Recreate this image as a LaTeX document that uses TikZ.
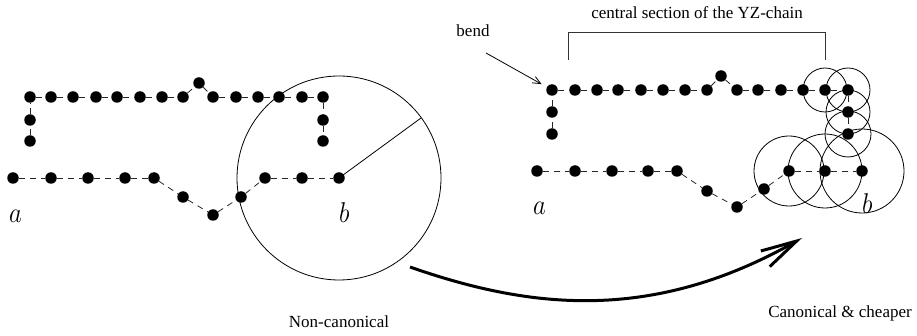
\documentclass[tikz,border=0pt]{standalone}
\usepackage{fontspec}
\setmainfont{Liberation Serif}
\usetikzlibrary{arrows.meta}
\begin{document}
\begin{tikzpicture}[x=1pt,y=-1pt,
  dot/.style={circle,fill=black,inner sep=0pt,minimum size=11.5pt},
  chainline/.style={dash pattern=on 6pt off 5pt,line width=0.8pt,black!85},
  thin line/.style={line width=0.8pt},
  lbl/.style={font=\fontsize{17}{20}\selectfont,inner sep=0pt},
  mlbl/.style={font=\fontsize{25}{28}\selectfont,inner sep=0pt,anchor=base west}]
\useasboundingbox (0,0) rectangle (917,336);
% ---------- left diagram ----------
\foreach \p [count=\i] in {(30,141),(30,120),(30,97),(51,97),(73,97),(96,97),(117,97),(140,97),(162,97),(183,97),(199,83),(213,97),(236,97),(258,97),(279,97),(302,97),(323,97),(323,120),(323,141)}
  \node[dot] (LT\i) at \p {};
\foreach \p [count=\i] in {(13,178),(51,178),(88,178),(125,178),(154,178),(183,197),(213,215),(241,197),(265,178),(302,178),(339,178)}
  \node[dot] (LB\i) at \p {};
\foreach \i [remember=\i as \j (initially 1)] in {2,...,19}
  \draw[chainline] (LT\j) -- (LT\i);
\foreach \i [remember=\i as \j (initially 1)] in {2,...,11}
  \draw[chainline] (LB\j) -- (LB\i);
\draw[thin line] (LB11.center) circle[radius=102];
\coordinate (rad) at (421,118);
\draw[thin line] (LB11.center) -- (rad);
\node[mlbl] (la) at (9,223) {\scalebox{1}[1.15]{$a$}};
\node[mlbl] (lb) at (339,223) {\scalebox{1}[1.15]{$b$}};
\node[lbl] (noncan) at (339,322) {Non-canonical};
% ---------- right diagram ----------
\foreach \p [count=\i] in {(552,134),(552,112),(552,90),(575,90),(597,90),(618,90),(641,90),(663,90),(685,90),(707,90),(721,76),(737,90),(758,90),(781,90),(803,90),(825,90),(848,90),(848,112),(848,134)}
  \node[dot] (RT\i) at \p {};
\foreach \p [count=\i] in {(537,171),(575,171),(612,171),(648,171),(677,171),(707,191),(737,207),(764,189),(789,171),(825,171),(862,171)}
  \node[dot] (RB\i) at \p {};
\foreach \i [remember=\i as \j (initially 1)] in {2,...,19}
  \draw[chainline] (RT\j) -- (RT\i);
\foreach \i [remember=\i as \j (initially 1)] in {2,...,11}
  \draw[chainline] (RB\j) -- (RB\i);
\draw[thin line] (RT16.center) circle[radius=22];
\draw[thin line] (RT17.center) circle[radius=22];
\draw[thin line] (RT18.center) circle[radius=22];
\draw[thin line] (RT19.center) circle[radius=23];
\draw[thin line] (RB9.center) circle[radius=35];
\draw[thin line] (RB10.center) circle[radius=37];
\draw[thin line] (RB11.center) circle[radius=42];
\node[mlbl] (ra) at (533,215) {\scalebox{1}[1.15]{$a$}};
\node[mlbl] (rb) at (862,214) {\scalebox{1}[1.15]{$b$}};
% bracket
\coordinate (brA) at (568,60);
\coordinate (brB) at (568,32);
\coordinate (brC) at (825,32);
\coordinate (brD) at (825,60);
\draw[thin line,black!80] (brA) -- (brB) -- (brC) -- (brD);
\node[lbl] (title) at (697,13) {central section of the YZ-chain};
% bend
\node[lbl] (bend) at (473,31) {bend};
\coordinate (bendstart) at (486,53);
\draw[thin line,-{Straight Barb[length=8pt,width=7pt]},shorten >=6pt] (bendstart) -- (RT3);
\node[lbl] (can) at (840,313) {Canonical \& cheaper};
% big arrow
\coordinate (arrS) at (410,267);
\coordinate (arrE) at (802,238);
\draw[line width=3pt,-{Straight Barb[length=36pt,width=18pt,line width=3pt]}]
  (arrS) .. controls (530,309) and (652,323) .. (arrE);
\end{tikzpicture}
\end{document}
